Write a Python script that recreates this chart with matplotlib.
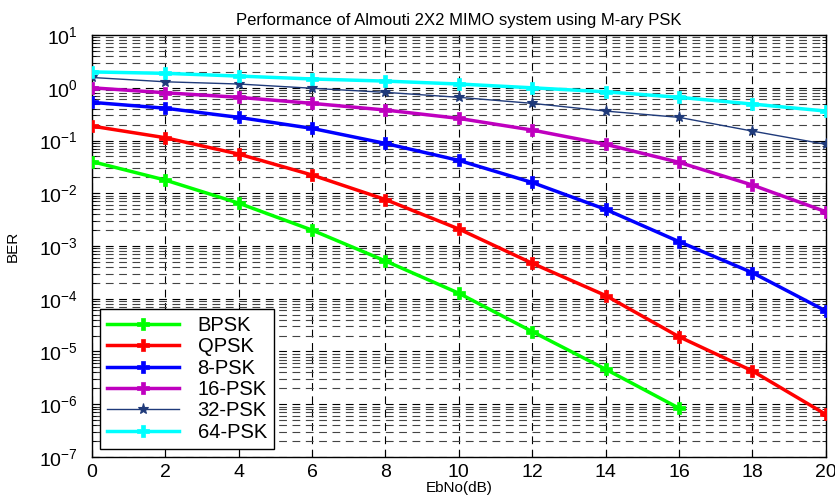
import matplotlib.pyplot as plt
import numpy as np
from matplotlib.ticker import LogLocator, NullFormatter

ebno = [0, 2, 4, 6, 8, 10, 12, 14, 16, 18, 20]

bpsk = [0.040, 0.0178, 0.0065, 0.0020, 5.2e-4, 1.27e-4, 2.38e-5, 4.6e-6, 8.4e-7]
qpsk = [0.188, 0.113, 0.0555, 0.0222, 0.0076, 0.0021, 4.7e-4, 1.15e-4, 1.9e-5, 4.27e-6, 6.4e-7]
psk8 = [0.53, 0.41, 0.275, 0.170, 0.088, 0.0420, 0.0160, 0.00495, 0.00121, 3.12e-4, 5.86e-5]
psk16 = [1.0, 0.805, 0.66, 0.507, 0.379, 0.263, 0.158, 0.0848, 0.0386, 0.0143, 0.00447]
psk32 = [1.57, 1.30, 1.18, 0.98, 0.82, 0.66, 0.507, 0.362, 0.275, 0.151, 0.0848]
psk64 = [2.0, 1.88, 1.67, 1.47, 1.34, 1.18, 1.0, 0.84, 0.66, 0.492, 0.362]

labels = ['BPSK', 'QPSK', '8-PSK', '16-PSK', '32-PSK', '64-PSK']
colors = ['#00ff00', '#ff0000', '#0000ff', '#bf00bf', '#1f3a7a', '#00ffff']


def main():
    plt.rcParams['font.family'] = ['Liberation Sans', 'DejaVu Sans']
    fig = plt.figure(figsize=(8.35, 5.01), dpi=100)
    ax = fig.add_axes([0.110, 0.088, 0.879, 0.842])

    series = [bpsk, qpsk, psk8, psk16, psk32, psk64]
    for vals, lab, col in zip(series, labels, colors):
        x = ebno[:len(vals)]
        if lab == '32-PSK':
            ax.semilogy(x, vals, '-', color=col, lw=1.0, marker='*',
                        ms=8, mew=0.8, label=lab, zorder=3)
        else:
            ax.semilogy(x, vals, '-', color=col, lw=2.5, marker='P',
                        ms=9, mew=0.5, label=lab, zorder=3)

    ax.set_xlim(0, 20)
    ax.set_ylim(1e-7, 1e1)
    ax.set_xticks(range(0, 21, 2))
    ax.yaxis.set_major_locator(LogLocator(base=10, numticks=20))
    ax.yaxis.set_minor_locator(LogLocator(base=10, subs=np.arange(2, 10), numticks=20))
    ax.yaxis.set_minor_formatter(NullFormatter())

    ax.grid(True, which='major', axis='both', color='black', ls=(0, (7, 5)), lw=0.8)
    ax.grid(True, which='minor', axis='y', color='#444444', ls=(0, (7, 5)), lw=0.8)
    ax.tick_params(which='both', direction='in', top=True, right=True, labelsize=14)
    ax.tick_params(which='major', length=5)
    ax.tick_params(which='minor', length=3)
    ax.tick_params(axis='y', pad=10)
    ax.tick_params(axis='x', pad=5)
    for s in ax.spines.values():
        s.set_linewidth(1.0)

    ax.set_title('Performance of Almouti 2X2 MIMO system using M-ary PSK', fontsize=12, pad=7)
    ax.set_xlabel('EbNo(dB)', fontsize=11, labelpad=0)
    ax.set_ylabel('BER', fontsize=11, labelpad=14)

    leg = ax.legend(loc='lower left', fontsize=14.5, handlelength=3.6, fancybox=False,
                    framealpha=1, edgecolor='black', borderaxespad=0.4,
                    labelspacing=0.12, borderpad=0.35, handletextpad=0.9)
    leg.get_frame().set_linewidth(1.0)

    fig.savefig('out.png', dpi=100)


if __name__ == '__main__':
    main()
